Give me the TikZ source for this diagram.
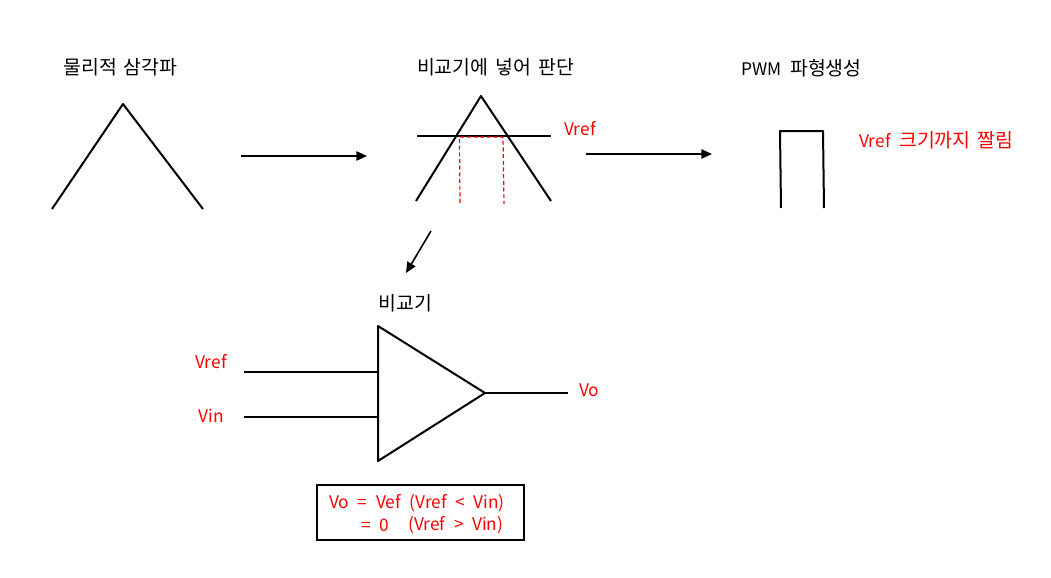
\documentclass[tikz,border=0pt]{standalone}
\usepackage{fontspec}
\setmainfont[WordSpace=2.2]{Noto Sans CJK KR}
\newfontfamily\krfont[Scale=1.12,WordSpace=1.6]{Noto Sans CJK KR}
\usetikzlibrary{positioning,arrows.meta}
\definecolor{redtxt}{RGB}{255,0,0}
\tikzset{
	title/.style={font=\fontsize{13}{16}\selectfont,inner sep=0pt,text=black},
	redlabel/.style={font=\fontsize{13}{16}\selectfont,inner sep=0pt,text=redtxt},
	wave/.style={line width=1.5pt,line join=round},
	flow/.style={-{Stealth[length=8pt,width=7pt,inset=0pt]},line width=1.2pt},
	guide/.style={densely dashed,redtxt,line width=.9pt},
	wire/.style={line width=1.2pt}
}
\begin{document}
\begin{tikzpicture}[x=.75pt,y=-.75pt]
	\useasboundingbox (0,0) rectangle (1051,578);
	% titles
	\node[title] (tTri) at (120.5,67) {\krfont 물리적 삼각파};
	\node[title] (tCmp) at (495.5,67) {\krfont 비교기에 넣어 판단};
	\node[title] (tPwm) at (801.5,68) {PWM {\krfont 파형생성}};
	\node[title] (tSym) at (405.5,303) {\krfont 비교기};
	% triangle wave
	\coordinate (triA) at (52,209);
	\coordinate (triB) at (123,104);
	\coordinate (triC) at (203,209);
	\draw[wave] (triA)--(triB)--(triC);
	% clipped wave
	\coordinate (cmpA) at (416,201);
	\coordinate (cmpB) at (481,96);
	\coordinate (cmpC) at (551,201);
	\coordinate (refL) at (417,136);
	\coordinate (refR) at (551,136);
	\coordinate (gdA) at (459.5,137);
	\coordinate (gdB) at (503,137);
	\coordinate (gdC) at (460,203);
	\coordinate (gdD) at (504,204);
	\draw[wave] (cmpA)--(cmpB)--(cmpC);
	\draw[wave] (refL)--(refR);
	\draw[guide] (gdC)--(gdA)--(gdB)--(gdD);
	\node[redlabel,anchor=west] (lRef) at (564,129) {Vref};
	% pwm pulse
	\coordinate (pwmA) at (781,208);
	\coordinate (pwmB) at (780,131);
	\coordinate (pwmC) at (823,131);
	\coordinate (pwmD) at (824,208);
	\draw[wave] (pwmA)--(pwmB)--(pwmC)--(pwmD);
	\node[redlabel,anchor=west] (lClip) at (859,140) {Vref {\krfont 크기까지 짤림}};
	% arrows
	\coordinate (arA) at (241,156);
	\coordinate (arB) at (367,156);
	\coordinate (arC) at (586,154);
	\coordinate (arD) at (712,154);
	\coordinate (arE) at (431,231);
	\coordinate (arF) at (406,273);
	\draw[flow] (arA)--(arB);
	\draw[flow] (arC)--(arD);
	\draw[flow] (arE)--(arF);
	% comparator
	\coordinate (opA) at (378,326);
	\coordinate (opB) at (378,461);
	\coordinate (opC) at (485,393);
	\draw[wave] (opA)--(opC)--(opB)--cycle;
	\coordinate (inA) at (244,372);
	\coordinate (inAe) at (378,372);
	\coordinate (inB) at (244,417);
	\coordinate (inBe) at (378,417);
	\coordinate (outE) at (568,393);
	\draw[wire] (inA)--(inAe);
	\draw[wire] (inB)--(inBe);
	\draw[wire] (opC)--(outE);
	\node[redlabel,anchor=west] (lVref) at (195,362) {Vref};
	\node[redlabel,anchor=west] (lVin) at (198,416) {Vin};
	\node[redlabel,anchor=west] (lVo) at (579,390) {Vo};
	% condition box
	\node[draw=black,line width=1.5pt,minimum width=155.25pt,minimum height=41pt,inner sep=0pt] (cond) at (420.5,512.5) {};
	\node[redlabel,anchor=west] (cndA) at (329,503) {Vo = Vef (Vref < Vin)};
	\node[redlabel,anchor=west] (cndB) at (361,525) {= 0};
	\node[redlabel,anchor=west] (cndC) at (408,525) {(Vref > Vin)};
\end{tikzpicture}
\end{document}
